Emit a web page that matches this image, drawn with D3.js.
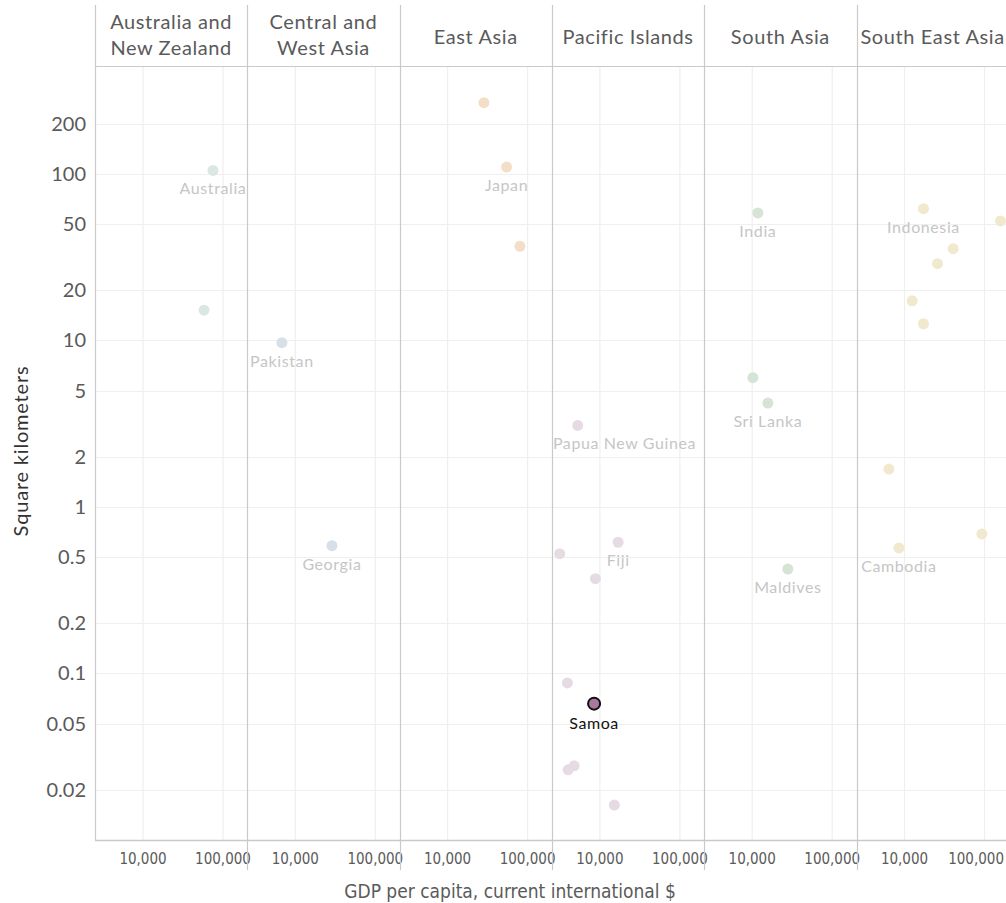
<!DOCTYPE html>
<html>
<head>
<meta charset="utf-8">
<script src="https://cdn.jsdelivr.net/npm/d3@7"></script>
<style>
  html, body { margin: 0; padding: 0; background: #fff; }
  svg { display: block; }
</style>
</head>
<body>
<svg id="chart" width="1006" height="903"></svg>
<script>
// ---------------- DATA ----------------
const regions = ["Australia and\nNew Zealand", "Central and\nWest Asia", "East Asia", "Pacific Islands", "South Asia", "South East Asia"];
const regionColors = ["#dbe7e4", "#d7dfe8", "#f5dec8", "#e6dbe2", "#d5e4d4", "#f1e9cd"];

// each point: region index, GDP per capita, square kilometers, label
const countryRegion = [0, 0, 1, 1, 2, 2, 2, 3, 3, 3, 3, 3, 3, 3, 3, 3, 4, 4, 4, 4, 5, 5, 5, 5, 5, 5, 5, 5, 5];
const gdpPerCapita = [75000, 58000, 6800, 28700, 28400, 54600, 80200, 5280, 16900, 3145, 8790, 3925, 8460, 4760, 4000, 15170, 11780, 10200, 15700, 27900, 17280, 158500, 40600, 25850, 12480, 17280, 6380, 8510, 92800];
const areaKm2 = [105, 15.2, 9.7, 0.586, 268, 110, 36.8, 3.09, 0.614, 0.524, 0.371, 0.0877, 0.0659, 0.0279, 0.0264, 0.0162, 58.3, 5.98, 4.21, 0.424, 61.9, 52.2, 35.6, 28.9, 17.3, 12.6, 1.69, 0.568, 0.689];
const countryLabel = ["Australia", "", "Pakistan", "Georgia", "", "Japan", "", "Papua New Guinea", "Fiji", "", "", "", "Samoa", "", "", "", "India", "", "Sri Lanka", "Maldives", "Indonesia", "", "", "", "", "", "", "Cambodia", ""];
const highlighted = "Samoa";

const yTicks = [200, 100, 50, 20, 10, 5, 2, 1, 0.5, 0.2, 0.1, 0.05, 0.02];
const xTicks = [10000, 100000];

const yTitle = "Square kilometers";
const xTitle = "GDP per capita, current international $";

// ---------------- LAYOUT ----------------
const svg = d3.select("#chart");
const W = 1006;
const plotLeft = 95, headerTop = 5, headerBottom = 66, plotBottom = 840;
const panelW = 152.3;
const lineColor = "#c9c9c9", gridColor = "#efefef", textColor = "#5a5a5a";
const mainFont = "Lato, 'Open Sans', sans-serif";
const narrowFont = "'Liberation Sans Narrow', 'DejaVu Sans Condensed', sans-serif";

const y = d3.scaleLog().domain([0.01, 445]).range([plotBottom, headerBottom]);
const x = d3.scaleLog().domain([2512, 201300]).range([0, panelW]);

const data = gdpPerCapita.map((g, i) => ({
  r: countryRegion[i], gdp: g, area: areaKm2[i], label: countryLabel[i]
}));

// clip paths per panel
const defs = svg.append("defs");
regions.forEach((r, i) => {
  defs.append("clipPath").attr("id", "clip" + i)
    .append("rect").attr("x", 0).attr("y", headerBottom).attr("width", panelW).attr("height", plotBottom - headerBottom);
});

// horizontal gridlines
svg.append("g").selectAll("line").data(yTicks).join("line")
  .attr("x1", plotLeft).attr("x2", W)
  .attr("y1", d => Math.round(y(d)) + 0.5).attr("y2", d => Math.round(y(d)) + 0.5)
  .attr("stroke", gridColor).attr("stroke-width", 1.2);

// y axis labels
svg.append("g").selectAll("text").data(yTicks).join("text")
  .attr("x", 86).attr("y", d => y(d)).attr("dy", "0.35em")
  .attr("text-anchor", "end")
  .attr("font-family", mainFont).attr("font-size", 20).attr("fill", textColor)
  .text(d => d3.format("~g")(d));

// panels
const panels = svg.append("g").selectAll("g").data(regions).join("g")
  .attr("transform", (d, i) => `translate(${plotLeft + i * panelW},0)`);

panels.each(function(d, i) {
  const g = d3.select(this);
  const offset = plotLeft + i * panelW;
  // vertical gridlines
  g.selectAll("line.vg").data(xTicks).join("line").attr("class", "vg")
    .attr("x1", t => x(t)).attr("x2", t => x(t))
    .attr("y1", headerBottom).attr("y2", plotBottom)
    .attr("stroke", gridColor).attr("stroke-width", 1.2);
  // x tick labels (kept inside the window)
  g.selectAll("text.xt").data(xTicks).join("text").attr("class", "xt")
    .attr("x", t => x(t)).attr("y", 864)
    .attr("text-anchor", "middle")
    .attr("font-family", narrowFont).attr("font-size", 15).attr("fill", textColor)
    .text(t => d3.format(",")(t))
    .each(function(t) {
      const w = this.getComputedTextLength();
      const right = offset + x(t) + w / 2;
      if (right > W - 2) d3.select(this).attr("x", x(t) - (right - (W - 2)));
    });
  // header text
  const lines = d.split("\n");
  const ht = g.append("text")
    .attr("x", panelW / 2)
    .attr("text-anchor", "middle")
    .attr("font-family", mainFont).attr("font-size", 20).attr("letter-spacing", 0.6)
    .attr("fill", textColor);
  lines.forEach((ln, k) => {
    ht.append("tspan").attr("x", panelW / 2)
      .attr("y", lines.length === 1 ? 44 : 29 + k * 26)
      .text(ln);
  });
});

// panel separators
const seps = d3.range(regions.length + 1).map(i => plotLeft + i * panelW);
svg.append("g").selectAll("line").data(seps).join("line")
  .attr("x1", d => Math.round(d) + 0.5).attr("x2", d => Math.round(d) + 0.5)
  .attr("y1", headerTop).attr("y2", (d, i) => i === 0 ? plotBottom : 870)
  .attr("stroke", lineColor).attr("stroke-width", 1.2);

// header bottom line and x-axis line
svg.append("line").attr("x1", plotLeft).attr("x2", W).attr("y1", headerBottom + 0.5).attr("y2", headerBottom + 0.5)
  .attr("stroke", lineColor).attr("stroke-width", 1.2);
svg.append("line").attr("x1", plotLeft).attr("x2", W).attr("y1", plotBottom + 0.5).attr("y2", plotBottom + 0.5)
  .attr("stroke", lineColor).attr("stroke-width", 1.5);

// points and labels per panel
panels.each(function(d, i) {
  const g = d3.select(this).append("g").attr("clip-path", `url(#clip${i})`);
  const pts = data.filter(p => p.r === i);
  const normal = pts.filter(p => p.label !== highlighted);
  const hi = pts.filter(p => p.label === highlighted);
  g.selectAll("circle.n").data(normal).join("circle").attr("class", "n")
    .attr("cx", p => x(p.gdp)).attr("cy", p => y(p.area)).attr("r", 5.5)
    .attr("fill", regionColors[i]);
  g.selectAll("text.lbl").data(normal.filter(p => p.label)).join("text").attr("class", "lbl")
    .attr("x", p => x(p.gdp)).attr("y", p => y(p.area) + 24)
    .attr("text-anchor", "middle")
    .attr("font-family", mainFont).attr("font-size", 16).attr("letter-spacing", 0.6)
    .attr("fill", "#c6c6c6")
    .text(p => p.label)
    .each(function(p) {
      const w = this.getComputedTextLength();
      const cx = x(p.gdp);
      if (cx - w / 2 < 1) d3.select(this).attr("x", 1 + w / 2);
    });
  g.selectAll("circle.h").data(hi).join("circle").attr("class", "h")
    .attr("cx", p => x(p.gdp)).attr("cy", p => y(p.area)).attr("r", 6)
    .attr("fill", "#a8799d").attr("stroke", "#111").attr("stroke-width", 2);
  g.selectAll("text.hl").data(hi).join("text").attr("class", "hl")
    .attr("x", p => x(p.gdp)).attr("y", p => y(p.area) + 25)
    .attr("text-anchor", "middle")
    .attr("font-family", mainFont).attr("font-size", 16).attr("letter-spacing", 0.6)
    .attr("fill", "#111")
    .text(p => p.label);
});

// axis titles
svg.append("text")
  .attr("transform", `translate(28,${451}) rotate(-90)`)
  .attr("text-anchor", "middle")
  .attr("font-family", mainFont).attr("font-size", 20).attr("letter-spacing", 0.8)
  .attr("fill", "#333")
  .text(yTitle);
svg.append("text")
  .attr("x", 510).attr("y", 898)
  .attr("text-anchor", "middle")
  .attr("font-family", narrowFont).attr("font-size", 19).attr("fill", textColor)
  .text(xTitle);
</script>
</body>
</html>
